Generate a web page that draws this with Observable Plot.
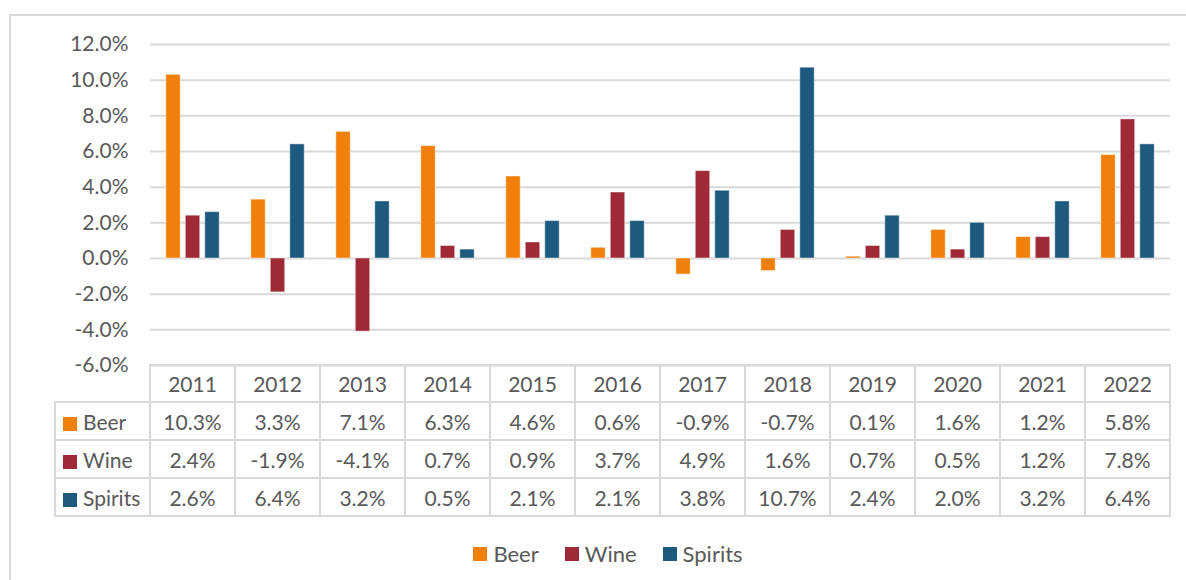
<!DOCTYPE html>
<html>
<head>
<meta charset="utf-8">
<script src="https://cdn.jsdelivr.net/npm/d3@7"></script>
<script src="https://cdn.jsdelivr.net/npm/@observablehq/plot@0.6"></script>
<style>
  html, body { margin: 0; padding: 0; background: #fff; }
  body { width: 1186px; height: 580px; overflow: hidden; font-family: Lato, "Open Sans", sans-serif; }
  #wrap { position: relative; width: 1186px; height: 580px; }
  #frame { position: absolute; left: 9px; top: 14px; width: 1300px; height: 700px; border: 2px solid #d9d9d9; box-sizing: border-box; }
  #chart { position: absolute; left: 0; top: 0; }
  #chart svg { background: transparent; }
  #tbl { position: absolute; left: 54px; top: 364px; border-collapse: collapse; font-family: Lato, sans-serif; font-size: 21px; color: #595959; }
  #tbl td, #tbl th { border: 2px solid #d9d9d9; text-align: center; font-weight: normal; padding: 0; }
  #tbl th.corner { border-top: none; border-left: none; }
  #tbl th { height: 35px; }
  #tbl td { height: 36px; }
  #tbl td.lab { text-align: left; padding-left: 7px; width: 86px; white-space: nowrap; }
  #tbl .sw { display: inline-block; width: 14px; height: 14px; margin-right: 6px; vertical-align: -1px; }
  #tbl .yc { width: 83px; }
  #legend { position: absolute; top: 540px; left: 0; width: 1186px; display: flex; justify-content: center; padding-left: 56px; box-sizing: border-box; }
  .lg-swatches { font-family: Lato, sans-serif !important; font-size: 22px !important; color: #595959 !important; margin: 0 !important; min-height: 0 !important; }
  .lg-swatch { margin-right: 26px !important; font-size: 22px !important; }
  .lg-swatch > svg { margin-right: 6px !important; }
</style>
</head>
<body>
<div id="wrap">
  <div id="frame"></div>
  <div id="chart"></div>
  <table id="tbl"></table>
  <div id="legend"></div>
</div>
<script>
const years = [2011, 2012, 2013, 2014, 2015, 2016, 2017, 2018, 2019, 2020, 2021, 2022];
const series = ["Beer", "Wine", "Spirits"];
const colors = ["#F0800A", "#9F2936", "#1E5A7D"];
const beer = [10.3, 3.3, 7.1, 6.3, 4.6, 0.6, -0.9, -0.7, 0.1, 1.6, 1.2, 5.8];
const wine = [2.4, -1.9, -4.1, 0.7, 0.9, 3.7, 4.9, 1.6, 0.7, 0.5, 1.2, 7.8];
const spirits = [2.6, 6.4, 3.2, 0.5, 2.1, 2.1, 3.8, 10.7, 2.4, 2.0, 3.2, 6.4];
const yTicks = [-6, -4, -2, 0, 2, 4, 6, 8, 10, 12];

const valuesBySeries = {Beer: beer, Wine: wine, Spirits: spirits};
const data = [];
years.forEach((yr, i) => {
  series.forEach(s => data.push({year: String(yr), series: s, value: valuesBySeries[s][i]}));
});

const fmt = v => v.toFixed(1) + "%";

const chart = Plot.plot({
  width: 1186,
  height: 380,
  marginTop: 44,
  marginBottom: 15,
  marginLeft: 150,
  marginRight: 16,
  style: {fontFamily: "Lato, sans-serif", fontSize: "21px", color: "#595959", background: "transparent"},
  fx: {domain: years.map(String), padding: 0, axis: null},
  x: {domain: series, paddingInner: 0.26, paddingOuter: 0.81, axis: null, round: false},
  y: {domain: [-6, 12]},
  color: {domain: series, range: colors},
  marks: [
    Plot.gridY(yTicks, {stroke: "#d9d9d9", strokeOpacity: 1, strokeWidth: 2}),
    Plot.barY(data, {fx: "year", x: "series", y: "value", fill: "series", stroke: "#ffffff", strokeOpacity: 0.45, strokeWidth: 1}),
    Plot.axisY(yTicks, {tickSize: 0, tickPadding: 22, tickFormat: fmt, fill: "#595959", fontSize: 21, label: null})
  ]
});
document.getElementById("chart").appendChild(chart);

// data table
const tbl = document.getElementById("tbl");
const head = document.createElement("tr");
const corner = document.createElement("th");
corner.className = "corner";
head.appendChild(corner);
years.forEach(yr => {
  const th = document.createElement("th");
  th.className = "yc";
  th.textContent = yr;
  head.appendChild(th);
});
tbl.appendChild(head);
series.forEach((s, k) => {
  const tr = document.createElement("tr");
  const lab = document.createElement("td");
  lab.className = "lab";
  const sw = document.createElement("span");
  sw.className = "sw";
  sw.style.background = colors[k];
  lab.appendChild(sw);
  lab.appendChild(document.createTextNode(s));
  tr.appendChild(lab);
  valuesBySeries[s].forEach(v => {
    const td = document.createElement("td");
    td.textContent = fmt(v);
    tr.appendChild(td);
  });
  tbl.appendChild(tr);
});

// legend
const leg = Plot.legend({color: {domain: series, range: colors}, legend: "swatches", swatchSize: 14, className: "lg"});
document.getElementById("legend").appendChild(leg);
</script>
</body>
</html>
